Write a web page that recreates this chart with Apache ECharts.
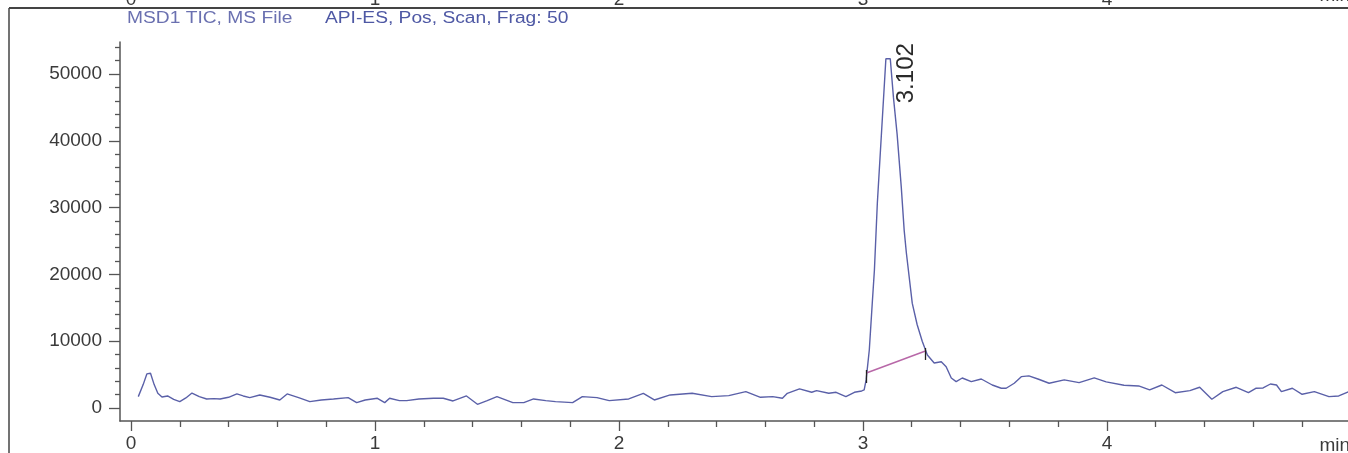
<!DOCTYPE html>
<html><head><meta charset="utf-8">
<script src="https://cdn.jsdelivr.net/npm/echarts@6/dist/echarts.min.js"></script>
<style>html,body{margin:0;padding:0;background:#fff;}#c{width:1348px;height:453px;}</style>
</head><body><div id="c"></div>
<script>
// ---- data ----
const times = [0.030,0.050,0.065,0.080,0.095,0.110,0.127,0.150,0.175,0.200,0.225,0.250,0.280,0.310,0.340,0.365,0.400,0.434,0.460,0.487,0.528,0.570,0.610,0.640,0.690,0.733,0.780,0.830,0.890,0.925,0.960,1.010,1.040,1.060,1.100,1.130,1.180,1.240,1.280,1.320,1.375,1.420,1.460,1.500,1.565,1.610,1.650,1.700,1.740,1.810,1.850,1.910,1.960,2.040,2.100,2.145,2.210,2.300,2.380,2.450,2.520,2.580,2.630,2.670,2.690,2.740,2.790,2.810,2.860,2.890,2.930,2.965,2.995,3.005,3.013,3.026,3.039,3.047,3.059,3.075,3.094,3.112,3.125,3.140,3.157,3.169,3.178,3.202,3.222,3.243,3.264,3.292,3.321,3.341,3.362,3.382,3.407,3.444,3.485,3.530,3.567,3.587,3.620,3.649,3.680,3.720,3.763,3.825,3.886,3.948,3.997,4.070,4.130,4.175,4.225,4.280,4.340,4.380,4.430,4.475,4.530,4.580,4.610,4.640,4.670,4.695,4.715,4.760,4.800,4.850,4.910,4.950,4.990];
const intensities = [1700,3500,5100,5200,3500,2200,1650,1800,1300,950,1500,2240,1700,1350,1400,1350,1600,2100,1800,1550,1950,1600,1200,2100,1500,950,1200,1350,1550,800,1200,1450,800,1450,1100,1100,1350,1450,1450,1050,1800,550,1100,1700,800,800,1350,1100,950,800,1700,1550,1100,1350,2200,1200,1950,2200,1700,1850,2450,1600,1700,1450,2200,2850,2350,2600,2200,2350,1700,2350,2550,2700,4200,8680,16170,20660,30700,40570,52300,52300,46500,41000,33100,26600,23200,15700,12500,10000,7930,6740,6930,6180,4490,3940,4490,3940,4340,3440,2950,2950,3700,4690,4800,4300,3700,4200,3800,4500,3900,3400,3300,2700,3440,2290,2590,3100,1300,2440,3100,2290,2950,3000,3590,3440,2440,2950,2050,2440,1700,1800,2440];
const xMajorTicks = [0,1,2,3,4];
const xMinorTicks = [0.2,0.4,0.6,0.8,1.2,1.4,1.6,1.8,2.2,2.4,2.6,2.8,3.2,3.4,3.6,3.8,4.2,4.4,4.6,4.8];
const yMajorTicks = [0,10000,20000,30000,40000,50000];
const yMinorTicks = [2000,4000,6000,8000,12000,14000,16000,18000,22000,24000,26000,28000,32000,34000,36000,38000,42000,44000,46000,48000,52000,54000];
const peakLabel = '3.102';
const peakPoint = [3.102, 52300];
const baselineStart = [3.014, 5240];
const baselineEnd = [3.256, 8530];
const startMarkRange = [3740, 5690];
const endMarkRange = [7190, 8980];
const titleLeft = 'MSD1 TIC, MS File';
const titleRight = 'API-ES, Pos, Scan, Frag: 50';
const unitLabel = 'min';

const X_MIN = -0.045, X_MAX = 4.988, Y_MIN = -1950, Y_MAX = 54800;
const FONT = 'Liberation Sans, Arial, sans-serif';
const AX = '#555';

const seriesData = times.map((t, i) => [t, intensities[i]]);

const chart = echarts.init(document.getElementById('c'), null, {renderer: 'canvas'});
chart.setOption({
  animation: false,
  backgroundColor: '#fff',
  grid: {left: 120, right: 0, top: 42, bottom: 32, containLabel: false, outerBoundsMode: 'none'},
  xAxis: [
    {type: 'value', min: X_MIN, max: X_MAX, position: 'bottom',
     axisLine: {show: true, onZero: false, lineStyle: {color: AX, width: 1.5}},
     axisTick: {show: true, customValues: xMajorTicks, length: 10, lineStyle: {color: AX, width: 1.3}},
     axisLabel: {show: true, customValues: xMajorTicks, margin: 13, fontSize: 19, fontFamily: FONT, color: '#3a3a3a', formatter: v => String(v)},
     splitLine: {show: false}},
    {type: 'value', min: X_MIN, max: X_MAX, position: 'bottom',
     axisLine: {show: false, onZero: false},
     axisTick: {show: true, customValues: xMinorTicks, length: 6, lineStyle: {color: AX, width: 1.3}},
     axisLabel: {show: false}, splitLine: {show: false}},
    {type: 'value', min: X_MIN, max: X_MAX, position: 'top',
     axisLine: {show: false, onZero: false}, axisTick: {show: false},
     axisLabel: {show: true, customValues: xMajorTicks, margin: 33, fontSize: 19, fontFamily: FONT, color: '#3a3a3a', formatter: v => String(v)},
     splitLine: {show: false}}
  ],
  yAxis: [
    {type: 'value', min: Y_MIN, max: Y_MAX, position: 'left',
     axisLine: {show: true, onZero: false, lineStyle: {color: AX, width: 1.5}},
     axisTick: {show: true, customValues: yMajorTicks, length: 11, lineStyle: {color: AX, width: 1.3}},
     axisLabel: {show: true, customValues: yMajorTicks, margin: 18, fontSize: 19, fontFamily: FONT, color: '#3a3a3a', formatter: v => String(v)},
     splitLine: {show: false}},
    {type: 'value', min: Y_MIN, max: Y_MAX, position: 'left',
     axisLine: {show: false, onZero: false},
     axisTick: {show: true, customValues: yMinorTicks, length: 5, lineStyle: {color: AX, width: 1.3}},
     axisLabel: {show: false}, splitLine: {show: false}}
  ],
  graphic: [
    {type: 'line', shape: {x1: 9, y1: 8, x2: 1348, y2: 8}, style: {stroke: '#444', lineWidth: 2}, silent: true},
    {type: 'line', shape: {x1: 9, y1: 8, x2: 9, y2: 453}, style: {stroke: '#444', lineWidth: 1.5}, silent: true},
    {type: 'text', x: 127, y: 19, scaleX: 1.2, style: {text: titleLeft, font: '16px ' + FONT, fill: '#6a70b0', verticalAlign: 'middle'}, silent: true},
    {type: 'text', x: 325, y: 19, scaleX: 1.2, style: {text: titleRight, font: '16px ' + FONT, fill: '#4e58a4', verticalAlign: 'middle'}, silent: true},
    {type: 'text', right: -2, top: -14, style: {text: unitLabel, font: '19px ' + FONT, fill: '#3a3a3a'}, silent: true},
    {type: 'text', right: -2, bottom: -2, style: {text: unitLabel, font: '19px ' + FONT, fill: '#3a3a3a'}, silent: true}
  ],
  series: [{
    type: 'line', xAxisIndex: 0, yAxisIndex: 0, data: seriesData,
    showSymbol: false, symbol: 'none', smooth: false,
    lineStyle: {color: '#5a60a8', width: 1.4},
    markPoint: {
      silent: true, symbol: 'rect', symbolSize: 1, itemStyle: {color: 'rgba(0,0,0,0)'},
      data: [{coord: peakPoint}],
      label: {show: true, formatter: peakLabel, rotate: 90, position: 'inside', offset: [-14.5, 18.5],
              fontSize: 24, fontFamily: FONT, color: '#2a2a2a'}
    },
    markLine: {
      silent: true, symbol: ['none', 'none'], animation: false,
      label: {show: false},
      data: [
        [{coord: baselineStart, lineStyle: {color: '#b868a8', width: 1.5, type: 'solid'}},
         {coord: baselineEnd}],
        [{coord: [baselineStart[0], startMarkRange[0]], lineStyle: {color: '#222', width: 1.3, type: 'solid'}},
         {coord: [baselineStart[0], startMarkRange[1]]}],
        [{coord: [baselineEnd[0], endMarkRange[0]], lineStyle: {color: '#222', width: 1.3, type: 'solid'}},
         {coord: [baselineEnd[0], endMarkRange[1]]}]
      ]
    }
  }]
});
</script>
</body></html>
